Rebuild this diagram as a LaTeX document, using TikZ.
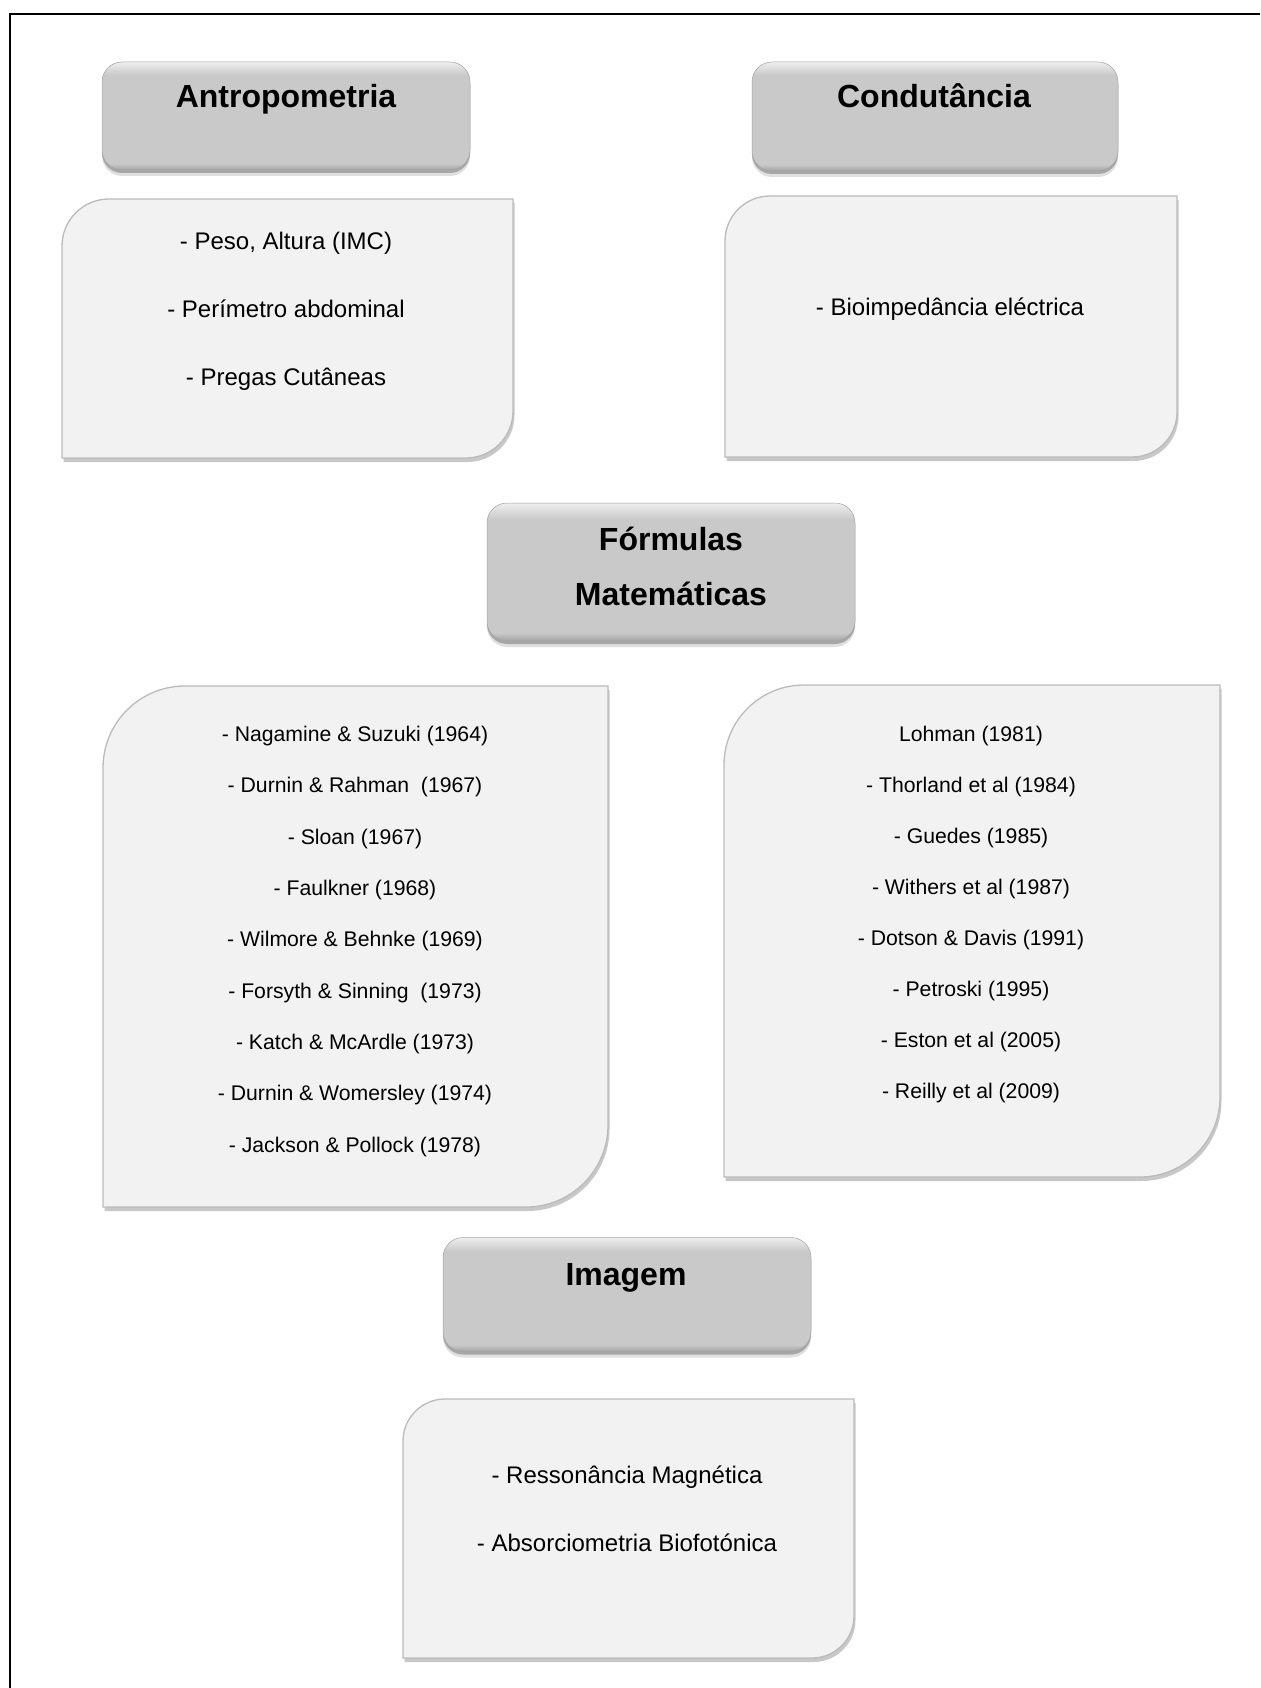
\documentclass[tikz,border=0pt]{standalone}
\usepackage{fontspec}
\setmainfont{Liberation Sans}
\usetikzlibrary{shadows}
\definecolor{hdrTop}{HTML}{EEEEEE}
\definecolor{hdrMid}{HTML}{C9C9C9}
\definecolor{hdrBot}{HTML}{A3A3A3}
\definecolor{cfill}{HTML}{F2F2F2}
\definecolor{cline}{HTML}{BBBBBB}
\pgfdeclareverticalshading{hdrshade}{100bp}{color(0bp)=(hdrBot); color(25bp)=(hdrBot); color(28bp)=(hdrMid); color(69bp)=(hdrMid); color(75bp)=(hdrTop); color(100bp)=(hdrTop)}
\newcommand\contentshape[5]{%
  \path[cboxstyle] (#1,#4) -- (#1,#2+#5) .. controls (#1,#2+0.448*#5) and (#1+0.448*#5,#2) .. (#1+#5,#2) -- (#3,#2) -- (#3,#4-#5) .. controls (#3,#4-0.448*#5) and (#3-0.448*#5,#4) .. (#3-#5,#4) -- cycle;}
\tikzset{
  headerbox/.style={rectangle, rounded corners=20pt, shading=hdrshade, draw=hdrBot, line width=0.5pt,
    drop shadow={shadow xshift=0pt, shadow yshift=-6pt, opacity=0.12, fill=black},
    drop shadow={shadow xshift=0pt, shadow yshift=-3pt, opacity=0.25, fill=black},
    inner sep=0pt},
  cboxstyle/.style={fill=cfill, draw=cline, line width=1.3pt,
    drop shadow={shadow xshift=1.5pt, shadow yshift=-4pt, opacity=0.3, fill=black!70}},
  htext/.style={anchor=base, inner sep=0pt, font=\fontsize{32}{38}\selectfont\bfseries},
  ctext/.style={anchor=base, inner sep=0pt, font=\fontsize{24}{29}\selectfont},
  ftext/.style={anchor=base, inner sep=0pt, font=\fontsize{21.2}{26}\selectfont},
}
\begin{document}
\begin{tikzpicture}[x=1pt, y=-1pt]
\useasboundingbox (0,0) rectangle (1260,1688);
\fill[white] (0,0) rectangle (1260,1688);
\draw[line width=2pt] (10,1688) -- (10,14) -- (1260,14);

% headers
\node[headerbox, minimum width=368pt, minimum height=108pt] (hA) at (286,116) {};
\node[headerbox, minimum width=366pt, minimum height=109pt] (hC) at (935,116.5) {};
\node[headerbox, minimum width=368pt, minimum height=138pt] (hF) at (671,572) {};
\node[headerbox, minimum width=368pt, minimum height=114pt] (hI) at (627,1294.5) {};

\node[htext] (tA) at (286,108) {Antropometria};
\node[htext] (tC) at (934,108) {Condutância};
\node[htext] (tF1) at (671,550) {Fórmulas};
\node[htext] (tF2) at (671,605) {Matemáticas};
\node[htext] (tI) at (626,1285) {Imagem};

% content boxes
\contentshape{62}{199}{513}{458}{47}
\contentshape{725}{196}{1177}{457}{45}
\contentshape{103}{686}{608}{1207}{82}
\contentshape{724}{685}{1220}{1177}{80}
\contentshape{403}{1399}{854}{1658}{42}

% Antropometria
\node[ctext] (a1) at (286,249.5) {- Peso, Altura (IMC)};
\node[ctext] (a2) at (286,317.5) {- Perímetro abdominal};
\node[ctext] (a3) at (286,385.5) {- Pregas Cutâneas};

% Condutancia
\node[ctext] (c1) at (950,315) {- Bioimpedância eléctrica};

% left formulas
\node[ftext] (l1) at (355,741.6) {- Nagamine \& Suzuki (1964)};
\node[ftext] (l2) at (355,792.9) {- Durnin \& Rahman\ \ (1967)};
\node[ftext] (l3) at (355,844.2) {- Sloan (1967)};
\node[ftext] (l4) at (355,895.5) {- Faulkner (1968)};
\node[ftext] (l5) at (355,946.8) {- Wilmore \& Behnke (1969)};
\node[ftext] (l6) at (355,998.1) {- Forsyth \& Sinning\ \ (1973)};
\node[ftext] (l7) at (355,1049.4) {- Katch \& McArdle (1973)};
\node[ftext] (l8) at (355,1100.7) {- Durnin \& Womersley (1974)};
\node[ftext] (l9) at (355,1152) {- Jackson \& Pollock (1978)};

% right formulas
\node[ftext] (r1) at (971,741) {Lohman (1981)};
\node[ftext] (r2) at (971,792.1) {- Thorland et al (1984)};
\node[ftext] (r3) at (971,843.2) {- Guedes (1985)};
\node[ftext] (r4) at (971,894.3) {- Withers et al (1987)};
\node[ftext] (r5) at (971,945.4) {- Dotson \& Davis (1991)};
\node[ftext] (r6) at (971,996.5) {- Petroski (1995)};
\node[ftext] (r7) at (971,1047.6) {- Eston et al (2005)};
\node[ftext] (r8) at (971,1098.7) {- Reilly et al (2009)};

% Imagem
\node[ctext] (i1) at (627,1483) {- Ressonância Magnética};
\node[ctext] (i2) at (627,1551) {- Absorciometria Biofotónica};
\end{tikzpicture}
\end{document}
